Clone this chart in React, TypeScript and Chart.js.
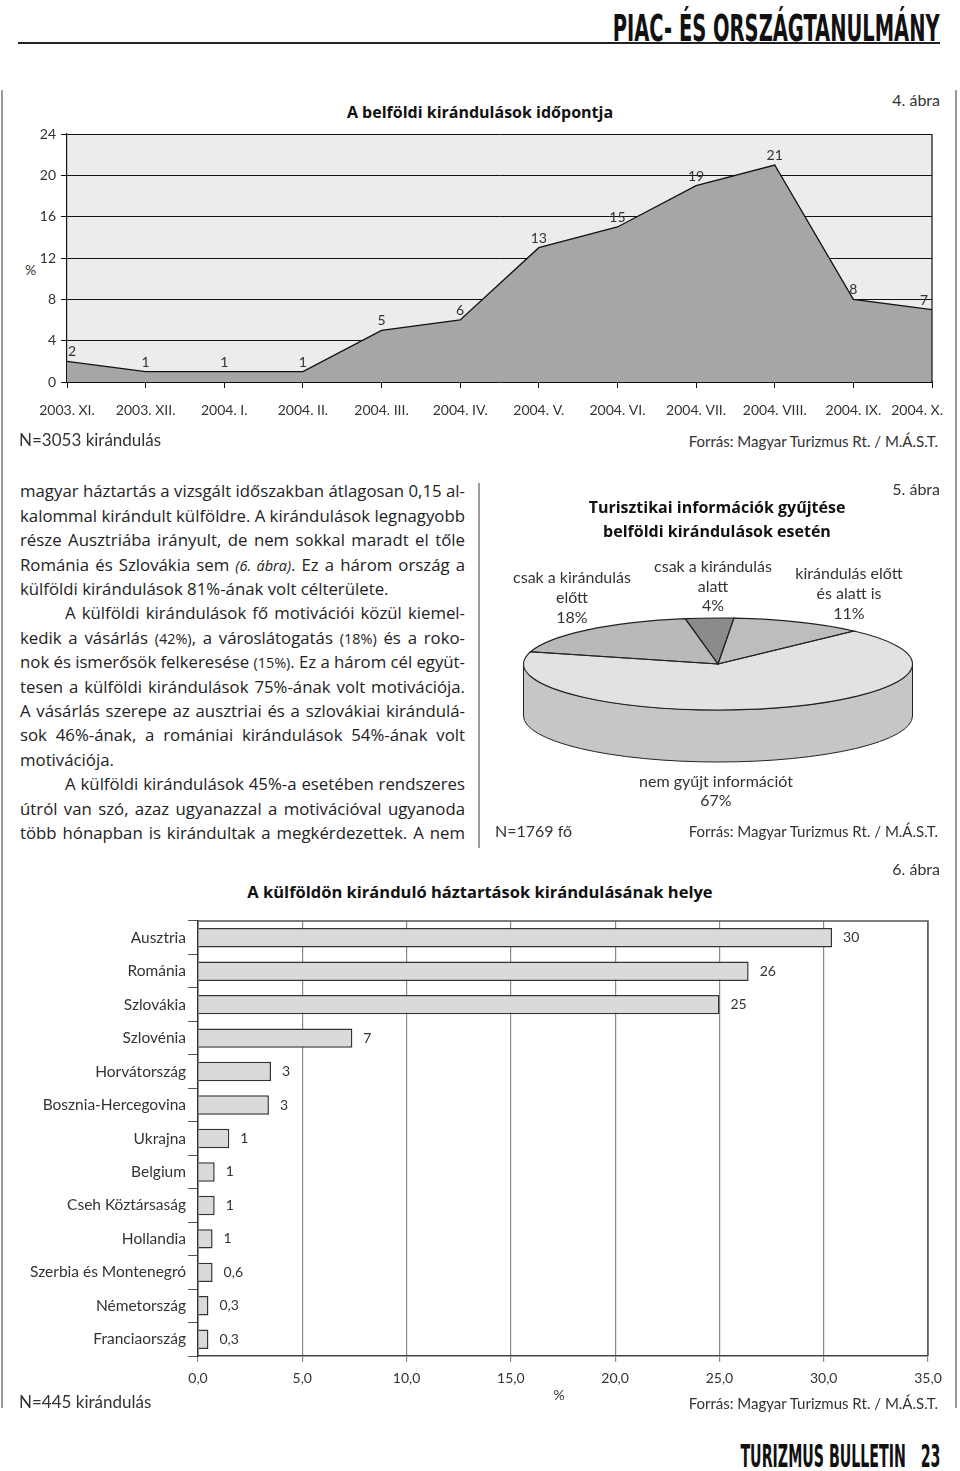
import React, { useEffect, useLayoutEffect, useRef } from 'react';
import Chart from 'chart.js/auto';

const FONT = 'Lato, "Noto Sans", sans-serif';
const TFONT = '"Open Sans", "Noto Sans", sans-serif';
const COND = '"DejaVu Sans Condensed", "Liberation Sans Narrow", "DejaVu Sans", sans-serif';
const TEXT = '#333';
const BODY = 16.8;

// ---- 4. ábra : A belföldi kirándulások időpontja
const months = ['2003. XI.', '2003. XII.', '2004. I.', '2004. II.', '2004. III.', '2004. IV.', '2004. V.', '2004. VI.', '2004. VII.', '2004. VIII.', '2004. IX.', '2004. X.'];
const tripShare = [2, 1, 1, 1, 5, 6, 13, 15, 19, 21, 8, 7];
const tripTicks = [0, 4, 8, 12, 16, 20, 24];

// ---- 5. ábra : Turisztikai információk gyűjtése
const infoCategories = ['csak a kirándulás előtt', 'csak a kirándulás alatt', 'kirándulás előtt és alatt is', 'nem gyűjt információt'];
const infoShare = [18, 4, 11, 67];
const infoTopColors = ['#b9b9b9', '#8b8b8b', '#bdbdbd', '#e2e2e2'];
const infoSideColors = ['#a0a0a0', '#707070', '#a4a4a4', '#c6c6c6'];

// ---- 6. ábra : A külföldön kiránduló háztartások kirándulásának helye
const countries = ['Ausztria', 'Románia', 'Szlovákia', 'Szlovénia', 'Horvátország', 'Bosznia-Hercegovina', 'Ukrajna', 'Belgium', 'Cseh Köztársaság', 'Hollandia', 'Szerbia és Montenegró', 'Németország', 'Franciaország'];
const destShare = [30.4, 26.4, 25.0, 7.4, 3.5, 3.4, 1.5, 0.8, 0.8, 0.7, 0.7, 0.5, 0.5];
const destLabels = ['30', '26', '25', '7', '3', '3', '1', '1', '1', '1', '0,6', '0,3', '0,3'];
const pctTicks = ['0,0', '5,0', '10,0', '15,0', '20,0', '25,0', '30,0', '35,0'];

const PIE_TILT = 46 / 194.5;
const PIE_DEPTH = 52;

function T({ x, y, size = 15, align = 'left', bold = false, color = TEXT, family = FONT, children }: any) {
  const style: React.CSSProperties = {
    position: 'absolute', top: y - 0.63 * size, fontSize: size, lineHeight: 1.2,
    fontFamily: family, fontWeight: bold ? 700 : 400, color, whiteSpace: 'pre',
  };
  if (align === 'left') style.left = x;
  else if (align === 'right') style.right = 960 - x;
  else { style.left = x - 400; style.width = 800; style.textAlign = 'center'; }
  return <div style={style}>{children}</div>;
}

function Title({ x, y, size = 16, children }: any) {
  return (
    <div style={{
      position: 'absolute', top: y - 0.7 * size, left: x - 400, width: 800, textAlign: 'center',
      fontSize: size, lineHeight: 1.36, fontFamily: TFONT, fontWeight: 700, color: '#111', whiteSpace: 'pre',
    }}>{children}</div>
  );
}

function FitText({ right, top, width, size, children }: any) {
  const ref = useRef<HTMLSpanElement>(null);
  useLayoutEffect(() => {
    const el = ref.current; if (!el) return;
    el.style.transform = 'none';
    const w = el.getBoundingClientRect().width;
    if (w > 0) el.style.transform = `scaleX(${width / w})`;
  }, []);
  return (
    <span ref={ref} style={{
      position: 'absolute', right, top, fontSize: size, lineHeight: 1, whiteSpace: 'pre',
      fontFamily: COND, fontWeight: 700, color: '#111', display: 'inline-block', transformOrigin: 'right top',
    }}>{children}</span>
  );
}

function JLine({ i, indent = 0, justify = true, children }: any) {
  const ref = useRef<HTMLSpanElement>(null);
  useLayoutEffect(() => {
    const el = ref.current; if (!el) return;
    el.style.wordSpacing = '0px';
    const w = el.getBoundingClientRect().width;
    const target = 445 - indent;
    const spaces = ((el.textContent || '').match(/ /g) || []).length;
    if ((justify || w > target) && spaces > 0) el.style.wordSpacing = `${(target - w) / spaces}px`;
  }, []);
  return (
    <div style={{
      position: 'absolute', left: 20 + indent, top: 492.5 + i * 24.4 - 0.72 * BODY, fontSize: BODY,
      lineHeight: 1.36, whiteSpace: 'pre', fontFamily: TFONT, color: '#222',
    }}><span ref={ref}>{children}</span></div>
  );
}

const small = { fontSize: '0.86em' } as React.CSSProperties;

export default function App() {
  const lineRef = useRef<HTMLCanvasElement>(null);
  const pieRef = useRef<HTMLCanvasElement>(null);
  const barRef = useRef<HTMLCanvasElement>(null);

  useEffect(() => {
    Chart.defaults.font.family = FONT;
    Chart.defaults.color = TEXT;

    const plotBg = {
      id: 'plotBg',
      beforeDraw(chart: any) {
        const { ctx, chartArea: a } = chart;
        ctx.save(); ctx.fillStyle = '#ececec'; ctx.fillRect(a.left, a.top, a.width, a.height); ctx.restore();
      },
      afterDraw(chart: any) {
        const { ctx, chartArea: a } = chart;
        ctx.save(); ctx.strokeStyle = '#111'; ctx.lineWidth = 1.2;
        ctx.beginPath(); ctx.moveTo(a.right, a.top); ctx.lineTo(a.right, a.bottom); ctx.stroke();
        // last category label, kept inside the frame as in the original layout
        const xs = chart.scales.x;
        const last = months.length - 1;
        ctx.font = `14px ${FONT}`; ctx.fillStyle = TEXT; ctx.textAlign = 'right'; ctx.textBaseline = 'middle';
        ctx.fillText(months[last], xs.getPixelForTick(last) + 11, a.bottom + 28);
        ctx.restore();
      },
    };
    const lineLabels = {
      id: 'lineLabels',
      afterDatasetsDraw(chart: any) {
        const { ctx, chartArea: a } = chart;
        const meta = chart.getDatasetMeta(0);
        ctx.save(); ctx.font = `14px ${FONT}`; ctx.fillStyle = TEXT; ctx.textAlign = 'center'; ctx.textBaseline = 'alphabetic';
        meta.data.forEach((pt: any, i: number) => {
          const s = String(tripShare[i]);
          const w = ctx.measureText(s).width;
          const x = Math.min(Math.max(pt.x, a.left + w / 2 + 1), a.right - w / 2 - 4);
          ctx.fillText(s, x, pt.y - 5);
        });
        ctx.restore();
      },
    };

    const c1 = new Chart(lineRef.current!, {
      type: 'line',
      data: { labels: months, datasets: [{ data: tripShare, fill: 'origin', backgroundColor: '#a6a6a6', borderColor: '#111', borderWidth: 1.3, pointRadius: 0, tension: 0 }] },
      options: {
        animation: false, responsive: false, maintainAspectRatio: false,
        layout: { padding: { left: 0, right: 28, top: 14, bottom: 0 } },
        plugins: { legend: { display: false }, tooltip: { enabled: false } },
        scales: {
          x: {
            offset: false,
            grid: { display: true, drawOnChartArea: false, drawTicks: true, tickLength: 6, color: '#111' },
            border: { color: '#111', width: 1.2 },
            ticks: {
              font: { size: 14 }, color: TEXT, padding: 14, maxRotation: 0, autoSkip: false,
              callback: (_v: any, i: number) => (i === months.length - 1 ? '' : months[i]),
            },
            afterFit: (s: any) => { s.height = 48; },
          },
          y: {
            min: 0, max: 24,
            afterBuildTicks: (s: any) => { s.ticks = tripTicks.map(v => ({ value: v })); },
            grid: { color: '#111', tickLength: 6, drawTicks: true },
            border: { color: '#111', width: 1.2 },
            ticks: { font: { size: 14 }, color: TEXT, padding: 5 },
            afterFit: (s: any) => { s.width = 67; },
          },
        },
      } as any,
      plugins: [plotBg, lineLabels],
    });

    const pie3d = {
      id: 'pie3d',
      beforeDatasetsDraw(chart: any) {
        const ctx = chart.ctx;
        const arcs = chart.getDatasetMeta(0).data as any[];
        ctx.save();
        if (!arcs.length) return;
        const { x: cx, y: cy, outerRadius: r } = arcs[0].getProps(['x', 'y', 'outerRadius'], true);
        const ry = r * PIE_TILT;
        ctx.strokeStyle = '#222'; ctx.lineWidth = 1;
        arcs.forEach((arc: any, i: number) => {
          const { startAngle, endAngle } = arc.getProps(['startAngle', 'endAngle'], true);
          for (let k = -2; k <= 2; k++) {
            const a = Math.max(startAngle, k * 2 * Math.PI);
            const b = Math.min(endAngle, k * 2 * Math.PI + Math.PI);
            if (b > a) {
              ctx.beginPath();
              ctx.ellipse(cx, cy, r, ry, 0, a, b);
              ctx.lineTo(cx + r * Math.cos(b), cy + ry * Math.sin(b) + PIE_DEPTH);
              ctx.ellipse(cx, cy + PIE_DEPTH, r, ry, 0, b, a, true);
              ctx.closePath();
              ctx.fillStyle = infoSideColors[i];
              ctx.fill(); ctx.stroke();
            }
          }
        });
        ctx.translate(cx, cy); ctx.scale(1, PIE_TILT); ctx.translate(-cx, -cy);
      },
      afterDatasetsDraw(chart: any) {
        const ctx = chart.ctx;
        ctx.restore();
        const arcs = chart.getDatasetMeta(0).data as any[];
        if (!arcs.length) return;
        const { x: cx, y: cy, outerRadius: r } = arcs[0].getProps(['x', 'y', 'outerRadius'], true);
        const ry = r * PIE_TILT;
        ctx.save(); ctx.strokeStyle = '#222'; ctx.lineWidth = 1.1;
        arcs.forEach((arc: any) => {
          const { startAngle, endAngle } = arc.getProps(['startAngle', 'endAngle'], true);
          ctx.beginPath();
          ctx.moveTo(cx, cy);
          ctx.lineTo(cx + r * Math.cos(startAngle), cy + ry * Math.sin(startAngle));
          ctx.ellipse(cx, cy, r, ry, 0, startAngle, endAngle);
          ctx.closePath();
          ctx.stroke();
        });
        ctx.restore();
      },
    };

    const c2 = new Chart(pieRef.current!, {
      type: 'pie',
      data: { labels: infoCategories, datasets: [{ data: infoShare, backgroundColor: infoTopColors, borderWidth: 0 }] },
      options: {
        animation: false, responsive: false, maintainAspectRatio: false, rotation: -74.5,
        layout: { padding: { left: 43.5, right: 47.5, top: 9.5, bottom: 21.5 } },
        plugins: { legend: { display: false }, tooltip: { enabled: false } },
      } as any,
      plugins: [pie3d],
    });

    const barFrame = {
      id: 'barFrame',
      afterDraw(chart: any) {
        const { ctx, chartArea: a } = chart;
        ctx.save(); ctx.strokeStyle = '#555'; ctx.lineWidth = 1.5;
        ctx.beginPath(); ctx.moveTo(a.left, a.top); ctx.lineTo(a.right, a.top); ctx.lineTo(a.right, a.bottom); ctx.stroke();
        ctx.restore();
      },
      afterDatasetsDraw(chart: any) {
        const { ctx } = chart;
        const meta = chart.getDatasetMeta(0);
        ctx.save(); ctx.font = `14px ${FONT}`; ctx.fillStyle = TEXT; ctx.textAlign = 'left'; ctx.textBaseline = 'middle';
        meta.data.forEach((bar: any, i: number) => { ctx.fillText(destLabels[i], bar.x + 11, bar.y); });
        ctx.restore();
      },
    };

    const c3 = new Chart(barRef.current!, {
      type: 'bar',
      data: { labels: countries, datasets: [{ data: destShare, backgroundColor: '#dadada', borderColor: '#333', borderWidth: 1.5, barPercentage: 0.58, categoryPercentage: 1 }] },
      options: {
        indexAxis: 'y', animation: false, responsive: false, maintainAspectRatio: false,
        layout: { padding: { left: 0, right: 32, top: 16, bottom: 0 } },
        plugins: { legend: { display: false }, tooltip: { enabled: false } },
        scales: {
          x: {
            min: 0, max: 35,
            ticks: { stepSize: 5, font: { size: 14 }, color: TEXT, padding: 8, maxRotation: 0, callback: (_v: any, i: number) => pctTicks[i] },
            grid: { color: '#8a8a8a', tickLength: 6, lineWidth: 1.2 },
            border: { color: '#444', width: 1.6 },
            afterFit: (s: any) => { s.height = 39; },
          },
          y: {
            grid: { offset: true, drawOnChartArea: false, drawTicks: true, tickLength: 10, color: '#555' },
            border: { color: '#333', width: 1.5 },
            ticks: { font: { size: 15.5 }, color: TEXT, padding: 2, autoSkip: false },
            afterFit: (s: any) => { s.width = 198; },
          },
        },
      } as any,
      plugins: [barFrame],
    });

    return () => { c1.destroy(); c2.destroy(); c3.destroy(); };
  }, []);

  const vline = (left: number, top: number, height: number): React.CSSProperties => ({ position: 'absolute', left, top, width: 2, height, background: '#9c9c9c' });

  return (
    <div style={{ position: 'absolute', left: 0, top: 0, width: 960, height: 1471, background: '#fff', overflow: 'hidden' }}>
      {/* header */}
      <FitText right={20} top={8.5} width={327} size={38}>PIAC- ÉS ORSZÁGTANULMÁNY</FitText>
      <div style={{ position: 'absolute', left: 18, top: 42, width: 922, height: 2, background: '#222' }} />

      {/* frame lines */}
      <div style={vline(1, 90, 1318)} />
      <div style={vline(955, 90, 1318)} />
      <div style={vline(478, 483, 365)} />

      {/* 4. ábra */}
      <T x={940} y={100} size={16} align="right">4. ábra</T>
      <Title x={480} y={113} size={16}>A belföldi kirándulások időpontja</Title>
      <T x={25} y={271} size={14}>%</T>
      <canvas ref={lineRef} width={960} height={310} style={{ position: 'absolute', left: 0, top: 120, width: 960, height: 310 }} />
      <T x={19} y={441} size={17}>N=3053 kirándulás</T>
      <T x={938} y={441} size={15} align="right">Forrás: Magyar Turizmus Rt. / M.Á.S.T.</T>

      {/* body text */}
      <JLine i={0}>magyar háztartás a vizsgált időszakban átlagosan 0,15 al-</JLine>
      <JLine i={1}>kalommal kirándult külföldre. A kirándulások legnagyobb</JLine>
      <JLine i={2}>része Ausztriába irányult, de nem sokkal maradt el tőle</JLine>
      <JLine i={3}>Románia és Szlovákia sem <span style={{ ...small, fontStyle: 'italic' }}>(6. ábra)</span>. Ez a három ország a</JLine>
      <JLine i={4} justify={false}>külföldi kirándulások 81%-ának volt célterülete.</JLine>
      <JLine i={5} indent={45}>A külföldi kirándulások fő motivációi közül kiemel-</JLine>
      <JLine i={6}>kedik a vásárlás <span style={small}>(42%)</span>, a városlátogatás <span style={small}>(18%)</span> és a roko-</JLine>
      <JLine i={7}>nok és ismerősök felkeresése <span style={small}>(15%)</span>. Ez a három cél együt-</JLine>
      <JLine i={8}>tesen a külföldi kirándulások 75%-ának volt motivációja.</JLine>
      <JLine i={9}>A vásárlás szerepe az ausztriai és a szlovákiai kirándulá-</JLine>
      <JLine i={10}>sok 46%-ának, a romániai kirándulások 54%-ának volt</JLine>
      <JLine i={11} justify={false}>motivációja.</JLine>
      <JLine i={12} indent={45}>A külföldi kirándulások 45%-a esetében rendszeres</JLine>
      <JLine i={13}>útról van szó, azaz ugyanazzal a motivációval ugyanoda</JLine>
      <JLine i={14}>több hónapban is kirándultak a megkérdezettek. A nem</JLine>

      {/* 5. ábra */}
      <canvas ref={pieRef} width={480} height={420} style={{ position: 'absolute', left: 480, top: 460, width: 480, height: 420 }} />
      <T x={940} y={489} size={16} align="right">5. ábra</T>
      <Title x={717} y={508} size={16}>Turisztikai információk gyűjtése</Title>
      <Title x={717} y={532} size={16}>belföldi kirándulások esetén</Title>
      <T x={572} y={577} size={16} align="center">csak a kirándulás</T>
      <T x={572} y={597} size={16} align="center">előtt</T>
      <T x={572} y={617} size={16} align="center">18%</T>
      <T x={713} y={566} size={16} align="center">csak a kirándulás</T>
      <T x={713} y={586} size={16} align="center">alatt</T>
      <T x={713} y={605} size={16} align="center">4%</T>
      <T x={849} y={573} size={16} align="center">kirándulás előtt</T>
      <T x={849} y={593} size={16} align="center">és alatt is</T>
      <T x={849} y={613} size={16} align="center">11%</T>
      <T x={716} y={781} size={16} align="center">nem gyűjt információt</T>
      <T x={716} y={800} size={16} align="center">67%</T>
      <T x={495} y={831} size={16}>N=1769 fő</T>
      <T x={938} y={831} size={15} align="right">Forrás: Magyar Turizmus Rt. / M.Á.S.T.</T>

      {/* 6. ábra */}
      <T x={940} y={869} size={16} align="right">6. ábra</T>
      <Title x={480} y={893} size={16.5}>A külföldön kiránduló háztartások kirándulásának helye</Title>
      <canvas ref={barRef} width={960} height={490} style={{ position: 'absolute', left: 0, top: 905, width: 960, height: 490 }} />
      <T x={559} y={1396} size={14} align="center">%</T>
      <T x={19} y={1403} size={17}>N=445 kirándulás</T>
      <T x={938} y={1403} size={15} align="right">Forrás: Magyar Turizmus Rt. / M.Á.S.T.</T>

      {/* footer */}
      <FitText right={20} top={1441} width={200} size={31.5}>TURIZMUS BULLETIN   23</FitText>
    </div>
  );
}
